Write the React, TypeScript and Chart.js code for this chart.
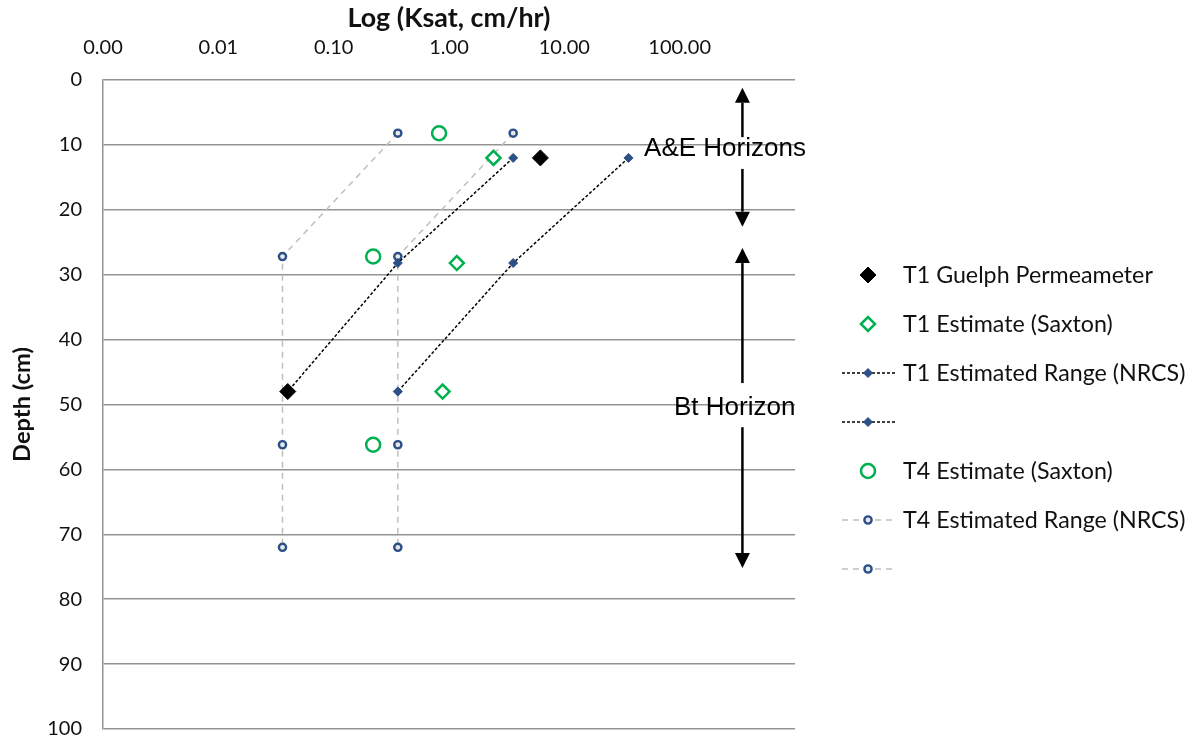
import React, { useEffect, useRef } from 'react';
import { Chart, registerables } from 'chart.js';

Chart.register(...registerables);

// ---------- data ----------
const xTickValues = [0.001, 0.01, 0.1, 1, 10, 100];
const xMin = 0.001;
const xMax = 1000;
const depthMin = 0;
const depthMax = 100;
const depthStep = 10;

const t1GuelphDepth = [12, 48];
const t1GuelphKsat = [6.2, 0.04];

const t1SaxtonDepth = [12, 28.2, 48];
const t1SaxtonKsat = [2.43, 1.17, 0.88];

const t1RangeDepth = [12, 28.2, 48];
const t1RangeLow = [3.6, 0.36, 0.04];
const t1RangeHigh = [36, 3.6, 0.36];

const t4SaxtonDepth = [8.2, 27.2, 56.2];
const t4SaxtonKsat = [0.82, 0.22, 0.22];

const t4RangeDepth = [8.2, 27.2, 56.2, 72];
const t4RangeLow = [0.36, 0.036, 0.036, 0.036];
const t4RangeHigh = [3.6, 0.36, 0.36, 0.36];

const seriesLabels = [
  'T1 Guelph Permeameter',
  'T1 Estimate (Saxton)',
  'T1 Estimated Range (NRCS)',
  '',
  'T4 Estimate (Saxton)',
  'T4 Estimated Range (NRCS)',
  '',
];

const xTitle = 'Log (Ksat, cm/hr)';
const yTitle = 'Depth (cm)';

// horizon annotations (in data units: Ksat for x, depth for y)
const horizonLabels = ['A&E Horizons', 'Bt Horizon'];
const horizonLabelKsat = [247, 300];
const horizonLabelDepth = [10.6, 50.5];
const horizonArrowKsat = 350;
const horizonArrowUp = [
  [8.8, 1.2],
  [46.7, 25.9],
];
const horizonArrowDown = [
  [13.7, 22.6],
  [53.5, 75.2],
];

const BLUE = '#2B4F86';
const GREEN = '#00B050';
const GRID = '#939393';
const FONT = 'Lato';

const zip = (xs: number[], ys: number[]) => xs.map((x, i) => ({ x, y: ys[i] }));

function fitSize(text: string, weight: string, target: number) {
  const c = document.createElement('canvas').getContext('2d') as CanvasRenderingContext2D;
  c.font = `${weight} 100px ${FONT}`;
  return (100 * target) / c.measureText(text).width;
}

function drawMarker(ctx: CanvasRenderingContext2D, style: string, x: number, y: number, r: number, fill: string, stroke: string, bw: number) {
  ctx.save();
  ctx.beginPath();
  if (style === 'rectRot') {
    ctx.moveTo(x - r, y);
    ctx.lineTo(x, y - r);
    ctx.lineTo(x + r, y);
    ctx.lineTo(x, y + r);
    ctx.closePath();
  } else {
    ctx.arc(x, y, r, 0, Math.PI * 2);
  }
  ctx.fillStyle = fill;
  ctx.fill();
  if (bw > 0) {
    ctx.lineWidth = bw;
    ctx.strokeStyle = stroke;
    ctx.stroke();
  }
  ctx.restore();
}

const decorPlugin = {
  id: 'decor',
  afterDraw(chart: any) {
    const ctx: CanvasRenderingContext2D = chart.ctx;
    const xs = chart.scales.x;
    const ys = chart.scales.y;
    const area = chart.chartArea;

    // horizon annotations
    ctx.save();
    ctx.fillStyle = '#000';
    ctx.strokeStyle = '#000';
    ctx.font = '26px "Liberation Sans", Arial, sans-serif';
    ctx.textAlign = 'center';
    ctx.textBaseline = 'middle';
    const ax = xs.getPixelForValue(horizonArrowKsat);
    const arrow = (y0: number, y1: number) => {
      const p0 = ys.getPixelForValue(y0);
      const p1 = ys.getPixelForValue(y1);
      const dir = p1 < p0 ? -1 : 1;
      const head = 15;
      ctx.beginPath();
      ctx.lineWidth = 2.5;
      ctx.moveTo(ax, p0);
      ctx.lineTo(ax, p1 - dir * head);
      ctx.stroke();
      ctx.beginPath();
      ctx.moveTo(ax, p1);
      ctx.lineTo(ax - 7.5, p1 - dir * head);
      ctx.lineTo(ax + 7.5, p1 - dir * head);
      ctx.closePath();
      ctx.fill();
    };
    horizonLabels.forEach((t, i) => {
      ctx.fillText(t, xs.getPixelForValue(horizonLabelKsat[i]), ys.getPixelForValue(horizonLabelDepth[i]));
      arrow(horizonArrowUp[i][0], horizonArrowUp[i][1]);
      arrow(horizonArrowDown[i][0], horizonArrowDown[i][1]);
    });
    ctx.restore();

    // legend
    ctx.save();
    const legLeft = area.right + 47;
    const markerX = legLeft + 26;
    const lineEnd = legLeft + 55;
    const textX = legLeft + 61;
    const firstY = 275;
    const gap = 49;
    const size = fitSize('T1 Guelph Permeameter', 'normal', 250);
    ctx.font = `${size}px ${FONT}`;
    ctx.textAlign = 'left';
    ctx.textBaseline = 'middle';
    chart.data.datasets.forEach((ds: any, i: number) => {
      const y = firstY + i * gap;
      if (ds.showLine) {
        ctx.save();
        ctx.strokeStyle = ds.borderColor;
        ctx.lineWidth = ds.borderWidth;
        ctx.setLineDash(ds.borderDash || []);
        ctx.beginPath();
        ctx.moveTo(legLeft, y);
        ctx.lineTo(lineEnd, y);
        ctx.stroke();
        ctx.restore();
      }
      drawMarker(ctx, ds.pointStyle, markerX, y, ds.pointRadius, ds.pointBackgroundColor, ds.pointBorderColor, ds.pointBorderWidth);
      ctx.fillStyle = '#111';
      if (ds.label) ctx.fillText(ds.label, textX, y + 1);
    });
    ctx.restore();
  },
};

export default function App() {
  const ref = useRef<HTMLCanvasElement | null>(null);

  useEffect(() => {
    if (!ref.current) return;
    const xTitleSize = fitSize(xTitle, 'bold', 203);
    const yTitleSize = fitSize(yTitle, 'bold', 115);
    const rangeT1 = {
      showLine: true,
      borderColor: '#000',
      borderWidth: 1.5,
      borderDash: [3, 2],
      pointStyle: 'rectRot',
      pointRadius: 4.5,
      pointBackgroundColor: BLUE,
      pointBorderColor: BLUE,
      pointBorderWidth: 1,
    };
    const rangeT4 = {
      showLine: true,
      borderColor: '#BFBFBF',
      borderWidth: 1.5,
      borderDash: [6, 5],
      pointStyle: 'circle',
      pointRadius: 3.6,
      pointBackgroundColor: '#E8E8E8',
      pointBorderColor: BLUE,
      pointBorderWidth: 2.4,
    };
    const chart = new Chart(ref.current, {
      type: 'scatter',
      data: {
        datasets: [
          {
            label: seriesLabels[0],
            data: zip(t1GuelphKsat, t1GuelphDepth),
            showLine: false,
            pointStyle: 'rectRot',
            pointRadius: 8,
            pointBackgroundColor: '#000',
            pointBorderColor: '#000',
            pointBorderWidth: 1,
          },
          {
            label: seriesLabels[1],
            data: zip(t1SaxtonKsat, t1SaxtonDepth),
            showLine: false,
            pointStyle: 'rectRot',
            pointRadius: 7,
            pointBackgroundColor: '#fff',
            pointBorderColor: GREEN,
            pointBorderWidth: 2.5,
          },
          { label: seriesLabels[2], data: zip(t1RangeLow, t1RangeDepth), ...rangeT1 },
          { label: seriesLabels[3], data: zip(t1RangeHigh, t1RangeDepth), ...rangeT1 },
          {
            label: seriesLabels[4],
            data: zip(t4SaxtonKsat, t4SaxtonDepth),
            showLine: false,
            pointStyle: 'circle',
            pointRadius: 7,
            pointBackgroundColor: '#fff',
            pointBorderColor: GREEN,
            pointBorderWidth: 2.5,
          },
          { label: seriesLabels[5], data: zip(t4RangeLow, t4RangeDepth), ...rangeT4 },
          { label: seriesLabels[6], data: zip(t4RangeHigh, t4RangeDepth), ...rangeT4 },
        ] as any,
      },
      options: {
        animation: false,
        responsive: false,
        layout: { padding: { left: 0, top: 0, right: 397, bottom: 13 } },
        plugins: {
          legend: { display: false },
          tooltip: { enabled: false },
        },
        scales: {
          x: {
            type: 'logarithmic',
            position: 'top',
            min: xMin,
            max: xMax,
            afterBuildTicks: (s: any) => {
              s.ticks = xTickValues.map((v) => ({ value: v }));
            },
            afterFit: (s: any) => {
              s.height = 80;
              s.paddingLeft = 0;
              s.paddingRight = 0;
            },
            grid: { display: false, drawTicks: false },
            border: { display: false },
            ticks: {
              autoSkip: false,
              maxRotation: 0,
              padding: 20,
              color: '#111',
              font: { family: FONT, size: 20 },
              callback: (v: any) => Number(v).toFixed(2),
            },
            title: {
              display: true,
              text: xTitle,
              color: '#111',
              font: { family: FONT, size: xTitleSize, weight: 'bold' },
              padding: { top: 18 - (xTitleSize * 1.2) / 2, bottom: 0 },
            },
          },
          y: {
            type: 'linear',
            reverse: true,
            min: depthMin,
            max: depthMax,
            afterFit: (s: any) => {
              s.width = 103;
              s.paddingTop = 0;
              s.paddingBottom = 0;
            },
            grid: { color: GRID, lineWidth: 1.5, drawTicks: false },
            border: { display: true, color: GRID, width: 1.5 },
            ticks: {
              stepSize: depthStep,
              padding: 21,
              color: '#111',
              font: { family: FONT, size: 20 },
            },
            title: {
              display: true,
              text: yTitle,
              color: '#111',
              font: { family: FONT, size: yTitleSize, weight: 'bold' },
              padding: { top: 22 - (yTitleSize * 1.2) / 2, bottom: 0 },
            },
          },
        },
      } as any,
      plugins: [decorPlugin],
    });
    return () => chart.destroy();
  }, []);

  return (
    <div style={{ position: 'absolute', left: 0, top: 0, width: 1192, height: 742, background: '#fff' }}>
      <canvas ref={ref} width={1192} height={742} style={{ display: 'block' }} />
    </div>
  );
}
